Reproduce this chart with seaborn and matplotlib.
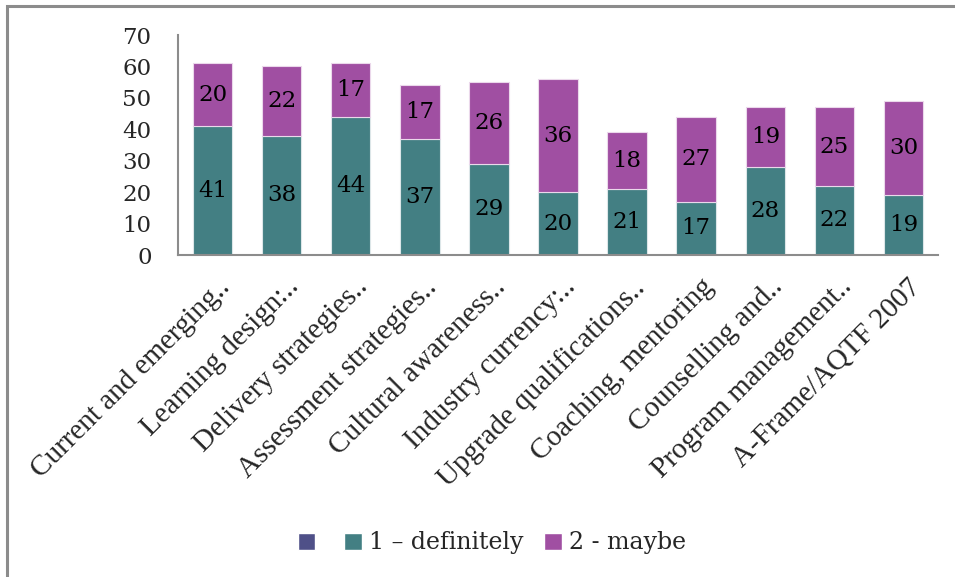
import matplotlib
matplotlib.use("Agg")
import matplotlib.pyplot as plt
import seaborn as sns
import pandas as pd
from matplotlib.patches import Patch, Rectangle
from matplotlib.transforms import ScaledTranslation

categories = [
    "Current and emerging..", "Learning design:..", "Delivery strategies..",
    "Assessment strategies..", "Cultural awareness..", "Industry currency:..",
    "Upgrade qualifications..", "Coaching, mentoring", "Counselling and..",
    "Program management..", "A-Frame/AQTF 2007",
]
definitely = [41, 38, 44, 37, 29, 20, 21, 17, 28, 22, 19]
maybe = [20, 22, 17, 17, 26, 36, 18, 27, 19, 25, 30]
legend_labels = ["", "1 \u2013 definitely", "2 - maybe"]
yticks = [0, 10, 20, 30, 40, 50, 60, 70]

TEAL = "#437F83"
PURPLE = "#A04FA2"
NAVY = "#4F5088"
GREY = "#8C8C8C"

sns.set_theme(style="white")
plt.rcParams["font.family"] = ["DejaVu Serif"]

df = pd.DataFrame({"cat": categories, "d": definitely, "m": maybe})

fig = plt.figure(figsize=(9.55, 5.77), dpi=100)
ax = fig.add_axes([178 / 955, 1 - 255 / 577, 760 / 955, 220 / 577])

sns.barplot(data=df, x="cat", y="d", color=TEAL, width=0.57, ax=ax,
            edgecolor="#DCE6E8", linewidth=0.8, saturation=1)
sns.barplot(data=df, x="cat", y="m", color=PURPLE, width=0.57, ax=ax,
            bottom=df["d"], edgecolor="#EBD8EB", linewidth=0.8, saturation=1)

for cont in ax.containers:
    ax.bar_label(cont, label_type="center", fontsize=16.5, color="black",
                 family="DejaVu Serif")

ax.set_ylim(0, 70)
ax.set_yticks(yticks)
ax.set_yticklabels([str(t) for t in yticks], fontsize=16.5, family="DejaVu Serif")
ax.set_xlabel("")
ax.set_ylabel("")
ax.tick_params(axis="y", length=0, pad=19)
ax.tick_params(axis="x", length=0, pad=0)
ax.set_xticks(range(len(categories)))
ax.set_xticklabels(categories, rotation=45, ha="right", rotation_mode="anchor",
                   fontsize=21, family="Liberation Serif")
off = ScaledTranslation(4 / 100, -19 / 100, fig.dpi_scale_trans)
for lab in ax.get_xticklabels():
    lab.set_transform(lab.get_transform() + off)

for s in ["top", "right"]:
    ax.spines[s].set_visible(False)
for s in ["left", "bottom"]:
    ax.spines[s].set_color(GREY)
    ax.spines[s].set_linewidth(1.5)

handles = [Patch(facecolor=NAVY), Patch(facecolor=TEAL), Patch(facecolor=PURPLE)]
fig.legend(handles, legend_labels, loc="center", bbox_to_anchor=(492 / 955, 1 - 543 / 577),
           ncol=3, frameon=False, handlelength=0.75, handleheight=0.75,
           handletextpad=0.3, columnspacing=0.9, prop={"family": "DejaVu Serif", "size": 17})

fig.patches.append(Rectangle((7 / 955, -0.1), 1.2, 1.1 - 6 / 577, transform=fig.transFigure,
                             fill=False, edgecolor=GREY, linewidth=2.2, zorder=0))

fig.savefig("out.png", dpi=100)
